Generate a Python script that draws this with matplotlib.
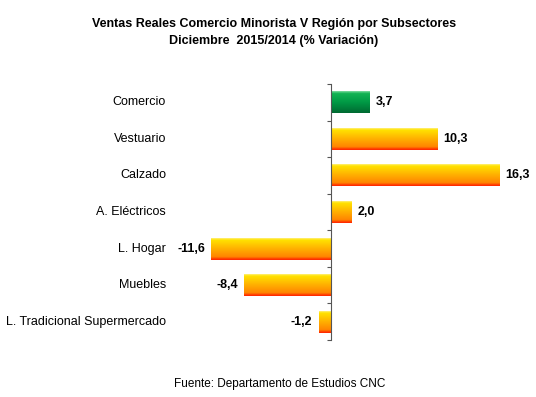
import numpy as np
import matplotlib.pyplot as plt
from matplotlib.colors import LinearSegmentedColormap
from matplotlib.transforms import blended_transform_factory

plt.rcParams['font.family'] = ['Liberation Sans', 'DejaVu Sans']

categorias = ['Comercio', 'Vestuario', 'Calzado', 'A. Eléctricos', 'L. Hogar',
              'Muebles', 'L. Tradicional Supermercado']
valores = [3.7, 10.3, 16.3, 2.0, -11.6, -8.4, -1.2]
etiquetas = ['3,7', '10,3', '16,3', '2,0', '-11,6', '-8,4', '-1,2']

naranjo = LinearSegmentedColormap.from_list(
    'nar', [(0, '#ff2200'), (0.07, '#ff4a00'), (0.14, '#ff8400'),
            (0.55, '#ffb400'), (0.92, '#ffe200'), (1, '#fff07a')])
verde = LinearSegmentedColormap.from_list(
    'ver', [(0, '#006a32'), (0.5, '#019a45'), (0.9, '#12b454'), (1, '#80dca0')])

fig = plt.figure(figsize=(5.36, 3.97), dpi=100)
# ejes ubicados en pixeles (ancho 536, alto 397)
ax = fig.add_axes([200 / 536, 1 - 340 / 397, 320 / 536, 256 / 397])

px = 10.31
alto = 0.6
grad = np.linspace(0, 1, 100).reshape(-1, 1)
for i, v in enumerate(valores):
    cmap = verde if i == 0 else naranjo
    x0, x1 = min(0, v), max(0, v)
    ax.imshow(grad, cmap=cmap, aspect='auto', origin='lower', interpolation='bilinear',
              extent=[x0, x1, i + alto / 2, i - alto / 2], zorder=2)
    if v >= 0:
        ax.text(v + 0.6, i, etiquetas[i], va='center', ha='left',
                fontsize=9, fontweight='bold')
    else:
        ax.text(v - 0.6, i, etiquetas[i], va='center', ha='right',
                fontsize=9, fontweight='bold')

ax.set_aspect('auto')
ax.set_xlim((200 - 331) / px, (520 - 331) / px)
ax.set_ylim(len(categorias) - 0.5, -0.5)

for s in ['top', 'right', 'bottom']:
    ax.spines[s].set_visible(False)
ax.spines['left'].set_position(('data', 0))
ax.spines['left'].set_color('#555555')
ax.xaxis.set_visible(False)

ax.set_yticks([-0.5] + list(np.arange(len(categorias)) + 0.5))
ax.set_yticklabels([])
ax.tick_params(axis='y', length=3, color='#555555')

trans = blended_transform_factory(fig.transFigure, ax.transData)
for i, c in enumerate(categorias):
    ax.text(166 / 536, i, c, transform=trans, ha='right', va='center', fontsize=9)

fig.text(274 / 536, 1 - 24 / 397, 'Ventas Reales Comercio Minorista V Región por Subsectores',
         ha='center', va='center', fontsize=9, fontweight='bold')
fig.text(274 / 536, 1 - 41 / 397, 'Diciembre  2015/2014 (% Variación)',
         ha='center', va='center', fontsize=9, fontweight='bold')
fig.text(280 / 536, 1 - 384 / 397, 'Fuente: Departamento de Estudios CNC',
         ha='center', va='center', fontsize=8.5)

fig.savefig('out.png', dpi=100)
